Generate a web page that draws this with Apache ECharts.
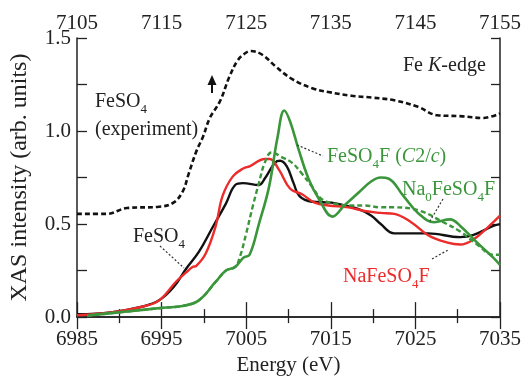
<!DOCTYPE html>
<html><head><meta charset="utf-8">
<script src="https://cdn.jsdelivr.net/npm/echarts@6/dist/echarts.min.js"></script>
<style>html,body{margin:0;padding:0;background:#fff}#c{width:528px;height:381px}</style>
</head><body><div id="c"></div>
<script>
// Energy (eV) / intensity pairs
const expE = [6985,6988.5,6990.9,6994.7,6996.4,6997.5,6998.2,6999.1,6999.9,7000.7,7001.9,7003,7004,7004.8,7005.5,7006.9,7008.4,7010.4,7012.8,7014.7,7017.4,7019.8,7022.5,7025.3,7027.6,7030.3,7033,7035];
const expV = [0.555,0.555,0.586,0.593,0.615,0.676,0.77,0.89,0.97,1.07,1.16,1.29,1.38,1.415,1.43,1.41,1.35,1.28,1.23,1.21,1.19,1.18,1.165,1.13,1.085,1.08,1.07,1.095];

const feso4E = [6985,6989,6992.8,6994.7,6996.4,6997.9,6999.4,7001,7002.6,7003.7,7004.6,7006.5,7007.2,7008.4,7009,7009.8,7010.6,7011.3,7012.8,7015.1,7016.6,7018.3,7019.8,7020.9,7022.5,7026.5,7030.3,7031.8,7034.2,7035];
const feso4V = [0.015,0.025,0.057,0.09,0.16,0.26,0.35,0.48,0.61,0.71,0.72,0.71,0.745,0.83,0.84,0.81,0.72,0.65,0.62,0.615,0.60,0.58,0.545,0.50,0.45,0.45,0.43,0.44,0.49,0.50];

const nafesoE = [6985,6989,6992.8,6994.7,6996.7,6997.9,6998.7,6999.1,7000.2,7001.4,7002.2,7003.4,7004.7,7005.4,7007.2,7007.8,7008.9,7010.2,7011.6,7013.1,7014.7,7017.1,7019,7020.9,7022.5,7024.5,7026.5,7028.8,7030.3,7031.8,7033.5,7035];
const nafesoV = [0.01,0.025,0.057,0.09,0.19,0.24,0.27,0.275,0.34,0.49,0.65,0.755,0.80,0.81,0.85,0.85,0.79,0.69,0.66,0.615,0.60,0.59,0.57,0.56,0.555,0.51,0.44,0.40,0.39,0.415,0.48,0.545];

const c2cE = [6986.2,6990.9,6995.2,6997.5,6999.4,7001.4,7002.6,7003.7,7004.7,7005.4,7006.5,7007.7,7008.7,7009.5,7010.2,7011.2,7012.4,7013.6,7015.2,7016.6,7018.3,7019.8,7020.9,7021.8,7023.6,7025.3,7027.2,7029.1,7030.3,7032.3,7034.2,7035];
const c2cV = [0.008,0.03,0.05,0.06,0.09,0.19,0.25,0.27,0.32,0.335,0.50,0.70,0.965,1.11,1.05,0.90,0.74,0.635,0.54,0.60,0.67,0.73,0.75,0.745,0.65,0.56,0.51,0.525,0.49,0.40,0.32,0.28];

const na0E = [6986.2,6990.9,6995.2,6997.5,6999.4,7001.4,7002.6,7003.7,7004.3,7005,7005.8,7006.5,7007.2,7008,7009.2,7010.4,7011.6,7012.8,7013.9,7015.4,7017.1,7019,7020.9,7022.5,7025.6,7028.3,7030.3,7032.3,7034.2,7035];
const na0V = [0.008,0.03,0.05,0.06,0.09,0.19,0.25,0.27,0.33,0.45,0.60,0.72,0.83,0.885,0.86,0.83,0.77,0.70,0.635,0.61,0.60,0.60,0.59,0.59,0.57,0.51,0.46,0.39,0.335,0.335];

const bottomTicks = [6985, 7035, 10];
const topTicks = [7105, 7155, 10];
const yTicks = [0, 1.5, 0.25];

function pairs(xs, ys){ return xs.map((x,i)=>[x, ys[i]]); }

const FONT = 'Liberation Serif';
const RED = '#ec2b2b', GREEN = '#3b963b', INK = '#222';
const chart = echarts.init(document.getElementById('c'));

function ts(size, extra){ return Object.assign({fontFamily: FONT, fontSize: size, color: INK}, extra || {}); }

chart.setOption({
  animation: false,
  backgroundColor: '#fff',
  textStyle: {fontFamily: FONT},
  grid: {left: 73, right: 28, top: 38, bottom: 57},
  xAxis: [
    {
      type: 'value', position: 'bottom', min: bottomTicks[0], max: bottomTicks[1], interval: bottomTicks[2],
      axisLine: {show: true, lineStyle: {color: INK, width: 1.5}}, splitLine: {show: false},
      axisTick: {show: true, inside: true, length: 15, lineStyle: {color: INK, width: 1.3}},
      minorTick: {show: true, splitNumber: 2, length: 8, lineStyle: {color: INK, width: 1.3}},
      axisLabel: ts(21, {margin: 12, formatter: v => String(v)}),
      name: 'Energy (eV)', nameLocation: 'middle', nameGap: 35,
      nameTextStyle: ts(21)
    },
    {
      type: 'value', position: 'top', min: topTicks[0], max: topTicks[1], interval: topTicks[2],
      axisLine: {show: true, lineStyle: {color: INK, width: 1.5}}, splitLine: {show: false},
      axisTick: {show: true, inside: true, length: 12, lineStyle: {color: INK, width: 1.3}},
      minorTick: {show: true, splitNumber: 2, length: 6, lineStyle: {color: INK, width: 1.3}},
      axisLabel: ts(21, {margin: 4, formatter: v => String(v)})
    }
  ],
  yAxis: [
    {
      type: 'value', position: 'left', min: yTicks[0], max: yTicks[1], interval: yTicks[2],
      axisLine: {show: true, lineStyle: {color: INK, width: 1.5}}, splitLine: {show: false},
      axisTick: {show: true, inside: true, length: 10, lineStyle: {color: INK, width: 1.3}},
      axisLabel: ts(21, {margin: 6,
        formatter: v => (Math.abs(v/0.5 - Math.round(v/0.5)) < 1e-6) ? v.toFixed(1) : ''}),
      name: 'XAS intensity (arb. units)', nameLocation: 'middle', nameGap: 45,
      nameTextStyle: ts(24)
    },
    {
      type: 'value', position: 'right', min: yTicks[0], max: yTicks[1], interval: yTicks[2],
      axisLine: {show: true, lineStyle: {color: INK, width: 1.5}}, splitLine: {show: false},
      axisTick: {show: true, inside: true, length: 9, lineStyle: {color: INK, width: 1.3}},
      axisLabel: {show: false}
    }
  ],
  series: [
    {name: 'FeSO4 (experiment)', type: 'line', data: pairs(expE, expV), smooth: 0.4, symbol: 'none',
     lineStyle: {color: '#111', width: 2.6, type: [5, 3]}},
    {name: 'FeSO4', type: 'line', data: pairs(feso4E, feso4V), smooth: 0.4, symbol: 'none',
     lineStyle: {color: '#111', width: 2.4}},
    {name: 'NaFeSO4F', type: 'line', data: pairs(nafesoE, nafesoV), smooth: 0.4, symbol: 'none',
     lineStyle: {color: RED, width: 2.4}},
    {name: 'Na0FeSO4F', type: 'line', data: pairs(na0E, na0V), smooth: 0.4, symbol: 'none',
     lineStyle: {color: GREEN, width: 2.4, type: [5, 3]}},
    {name: 'FeSO4F (C2/c)', type: 'line', data: pairs(c2cE, c2cV), smooth: 0.4, symbol: 'none',
     lineStyle: {color: GREEN, width: 2.6}}
  ]
});

function rich(color){
  return {
    n: {fontFamily: FONT, fontSize: 20, lineHeight: 28, fill: color},
    sub: {fontFamily: FONT, fontSize: 13, lineHeight: 12, verticalAlign: 'bottom', fill: color},
    it: {fontFamily: FONT, fontSize: 20, fontStyle: 'italic', lineHeight: 28, fill: color}
  };
}
function label(x, y, text, color){
  return {type: 'text', x: x, y: y, z: 10,
    style: {text: text, fill: color, fontFamily: FONT, fontSize: 20, lineHeight: 28,
      verticalAlign: 'middle', align: 'left', rich: rich(color)}};
}
function leader(x1, y1, x2, y2){
  return {type: 'line', z: 10, shape: {x1, y1, x2, y2},
    style: {stroke: '#333', lineWidth: 1.2, lineDash: [2, 2]}};
}

chart.setOption({
  graphic: [
    label(95, 102, '{n|FeSO}{sub|4}', INK),
    label(95, 130, '{n|(experiment)}', INK),
    label(133, 237, '{n|FeSO}{sub|4}', INK),
    leader(160, 246, 184, 268),
    label(327, 157, '{n|FeSO}{sub|4}{n|F (}{it|C}{n|2/}{it|c}{n|)}', GREEN),
    leader(297, 145, 323, 156),
    label(402, 190, '{n|Na}{sub|0}{n|FeSO}{sub|4}{n|F}', GREEN),
    leader(443, 199, 430, 221),
    label(343, 277, '{n|NaFeSO}{sub|4}{n|F}', RED),
    leader(432, 259, 448, 250),
    label(403, 66, '{n|Fe }{it|K}{n|-edge}', INK),
    {type: 'line', z: 10, shape: {x1: 212, y1: 93, x2: 212, y2: 82}, style: {stroke: '#111', lineWidth: 2}},
    {type: 'polygon', z: 10, shape: {points: [[207.5, 85], [216.5, 85], [212, 75]]}, style: {fill: '#111'}}
  ]
});
</script>
</body></html>
